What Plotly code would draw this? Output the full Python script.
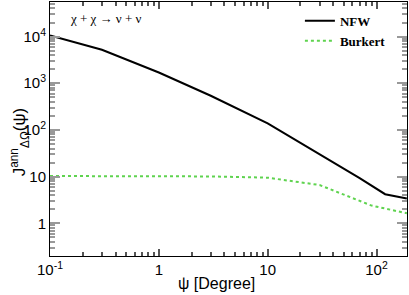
import plotly.graph_objects as go

psi_nfw = [0.1, 0.3, 1, 3, 10, 30, 70, 120, 190]
j_nfw = [10500, 5200, 1700, 540, 138, 30, 9.3, 4.2, 3.4]

psi_bur = [0.1, 1, 3, 10, 30, 90, 120, 190]
j_bur = [10.3, 10.3, 10.1, 9.5, 6.6, 2.4, 2.1, 1.64]

y_tickvals = [1, 10, 100, 1000, 10000]
y_ticktext = ["1", "10", "10<sup>2</sup>", "10<sup>3</sup>", "10<sup>4</sup>"]
x_tickvals = [0.1, 1, 10, 100]
x_ticktext = ["10<sup>-1</sup>", "1", "10", "10<sup>2</sup>"]

y_minor = [m * 10 ** e for e in range(-1, 5) for m in range(2, 10)]
x_minor = [m * 10 ** e for e in range(-1, 3) for m in range(2, 10)]

fig = go.Figure()
fig.add_trace(go.Scatter(x=psi_nfw, y=j_nfw, mode="lines", name="<b>NFW</b>",
                         line=dict(color="black", width=2)))
fig.add_trace(go.Scatter(x=psi_bur, y=j_bur, mode="lines", name="<b>Burkert</b>",
                         line=dict(color="#5fd34f", width=2, dash="dot")))

sans = "Liberation Sans"
serif = "Liberation Serif"

fig.update_layout(
    width=409, height=295,
    margin=dict(l=50, r=2, t=2, b=39),
    plot_bgcolor="white", paper_bgcolor="white",
    font=dict(family=sans, size=15, color="black"),
    showlegend=True,
    legend=dict(x=0.70, y=0.985, xanchor="left", yanchor="top",
                font=dict(family=serif, size=13, color="black"),
                bgcolor="rgba(0,0,0,0)", itemwidth=30, tracegroupgap=0),
    xaxis=dict(type="log", range=[-1, 2.28], tickvals=x_tickvals, ticktext=x_ticktext,
               ticks="inside", ticklen=7, tickwidth=2, tickcolor="#555",
               showline=True, linecolor="black", linewidth=1, mirror="ticks",
               gridcolor="white",
               minor=dict(ticks="inside", ticklen=4, tickmode="array", tickvals=x_minor,
                          tickcolor="#555", tickwidth=2, showgrid=False)),
    yaxis=dict(type="log", range=[-0.7, 4.74], tickvals=y_tickvals, ticktext=y_ticktext,
               ticks="inside", ticklen=10, tickwidth=2, tickcolor="#999",
               showline=True, linecolor="black", linewidth=1, mirror="ticks",
               gridcolor="white",
               minor=dict(ticks="inside", ticklen=5, tickmode="array", tickvals=y_minor,
                          tickcolor="#999", tickwidth=2, showgrid=False)),
    annotations=[
        dict(text="χ + χ → ν + ν", xref="paper", yref="paper", x=0.05, y=0.935,
             xanchor="left", yanchor="middle", showarrow=False,
             font=dict(family=serif, size=13, color="black")),
        dict(text="ψ [Degree]", xref="paper", yref="paper", x=0.465, y=-0.107,
             xanchor="center", yanchor="middle", showarrow=False,
             font=dict(family=sans, size=16, color="black")),
        dict(text="J<sup>ann</sup><sub>ΔΩ</sub>(ψ)", xref="paper", yref="paper",
             x=-0.085, y=0.45, xanchor="center", yanchor="middle", textangle=-90,
             showarrow=False, font=dict(family=sans, size=17, color="black")),
    ],
)

fig.write_html("out.html", post_script="document.body.style.margin='0';",
               config={"displayModeBar": False})
